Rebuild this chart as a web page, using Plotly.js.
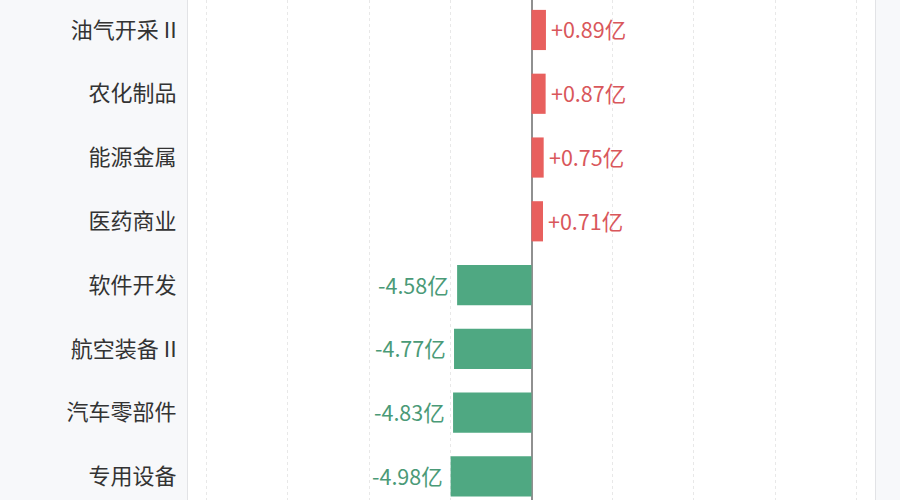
<!DOCTYPE html>
<html>
<head>
<meta charset="utf-8">
<script src="https://cdn.plot.ly/plotly-3.0.1.min.js"></script>
<style>
html,body{margin:0;padding:0;background:#f7f8fa;}
#chart{width:900px;height:500px;}
</style>
</head>
<body>
<div id="chart"></div>
<script>
const categories = ["油气开采Ⅱ", "农化制品", "能源金属", "医药商业", "软件开发", "航空装备Ⅱ", "汽车零部件", "专用设备"];
const categoryLabels = ["油气开采 II", "农化制品", "能源金属", "医药商业", "软件开发", "航空装备 II", "汽车零部件", "专用设备"];
const values = [0.89, 0.87, 0.75, 0.71, -4.58, -4.77, -4.83, -4.98];
const tickVals = [-20, -15, -10, -5, 0, 5, 10, 15, 20];

const barColors = values.map(v => v >= 0 ? "#e8605e" : "#4fa882");
const textColors = values.map(v => v >= 0 ? "#d9575b" : "#4a9a77");
const labels = values.map(v => (v >= 0 ? "+" : "") + v.toFixed(2) + "亿");

const trace = {
  type: "bar",
  orientation: "h",
  y: categories,
  x: values,
  marker: {color: barColors},
  hoverinfo: "skip"
};

const annotations = values.map((v, i) => ({
  x: v,
  y: categories[i],
  xref: "x",
  yref: "y",
  text: labels[i],
  showarrow: false,
  xanchor: v >= 0 ? "left" : "right",
  xshift: v >= 0 ? 3 : -6,
  yshift: 1,
  font: {color: textColors[i], size: 21.5, family: "Noto Sans CJK SC, Noto Sans, sans-serif"}
}));

const layout = {
  width: 900,
  height: 500,
  margin: {l: 188, r: 25, t: 0, b: 0, pad: 0},
  paper_bgcolor: "#f7f8fa",
  plot_bgcolor: "#ffffff",
  bargap: 0.37,
  showlegend: false,
  font: {family: "Noto Sans CJK SC, Noto Sans, sans-serif"},
  annotations: annotations,
  xaxis: {
    range: [-21.15, 21.15],
    tickvals: tickVals,
    showticklabels: false,
    showgrid: true,
    gridcolor: "#e8e8e8",
    griddash: "3px,3px",
    gridwidth: 1,
    zeroline: true,
    zerolinecolor: "#909090",
    zerolinewidth: 2,
    showline: false,
    fixedrange: true
  },
  yaxis: {
    type: "category",
    range: [7.37, -0.47],
    tickvals: categories,
    ticktext: categoryLabels,
    tickfont: {size: 22, color: "#333333"},
    ticks: "",
    ticklen: 0,
    ticklabelstandoff: 6,
    automargin: false,
    showgrid: false,
    zeroline: false,
    showline: true,
    linecolor: "#e2e3e6",
    linewidth: 1,
    mirror: true,
    fixedrange: true
  }
};

Plotly.newPlot("chart", [trace], layout, {displayModeBar: false, staticPlot: true});
</script>
</body>
</html>
